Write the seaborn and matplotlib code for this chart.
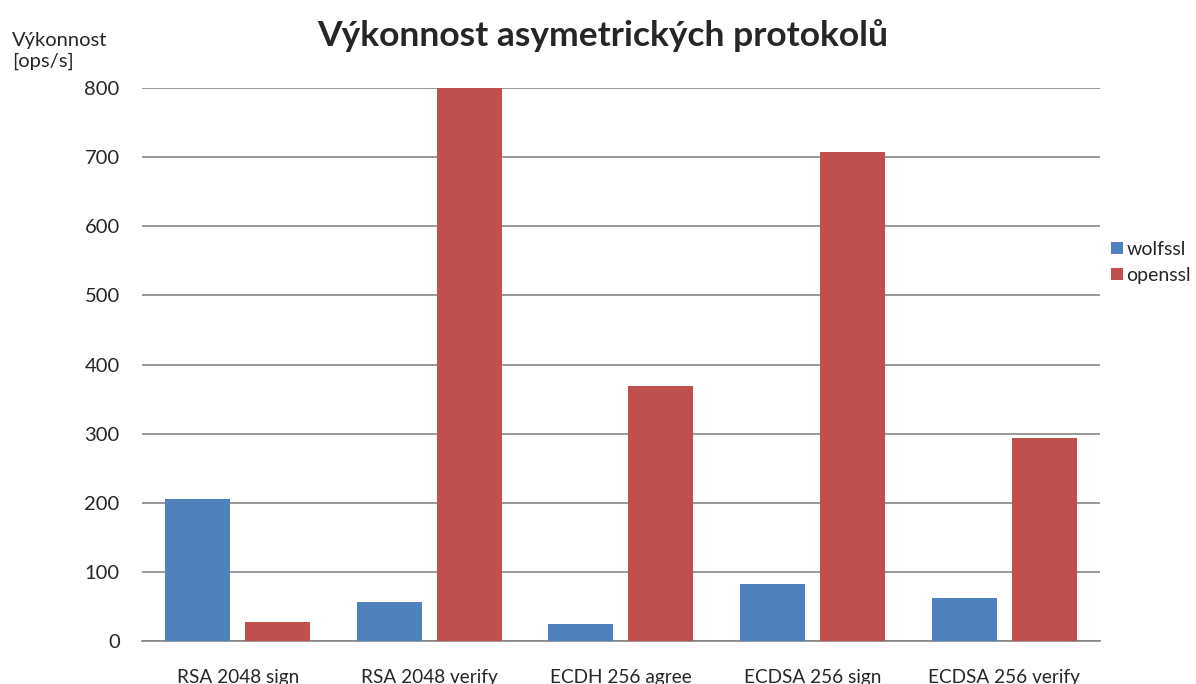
import numpy as np
import pandas as pd
import seaborn as sns
from matplotlib import pyplot as plt

sns.set_theme(style="white")
plt.rcParams['font.family'] = ['Lato', 'DejaVu Sans']

operace = ['RSA 2048 sign', 'RSA 2048 verify', 'ECDH 256 agree', 'ECDSA 256 sign', 'ECDSA 256 verify']
wolfssl = [205, 56, 25, 82, 62]
openssl = [27, 800, 369, 707, 293]
knihovny = ['wolfssl', 'openssl']
barvy = ['#4F81BD', '#C0504D']

df = pd.DataFrame({
    'operace': operace * 2,
    'hodnota': wolfssl + openssl,
    'knihovna': ['wolfssl'] * len(operace) + ['openssl'] * len(operace),
})

fig = plt.figure(figsize=(11.96, 6.84), dpi=100)
ax = fig.add_axes([0.1187, 0.0629, 0.8010, 0.8084])

sns.barplot(data=df, x='operace', y='hodnota', hue='knihovna', hue_order=knihovny,
            palette=barvy, width=0.835, gap=0.1875, saturation=1, linewidth=0,
            ax=ax, zorder=3)

ax.set_ylim(0, 800)
ax.set_yticks(np.arange(0, 801, 100))
ax.set_xlim(-0.5, len(operace) - 0.5)
ax.yaxis.grid(True, color='#868686', linewidth=1.2, zorder=0)
ax.set_axisbelow(True)
for s in ['top', 'right', 'left']:
    ax.spines[s].set_visible(False)
ax.spines['bottom'].set_color('#868686')
ax.spines['bottom'].set_linewidth(1.2)
ax.tick_params(axis='y', labelsize=14.5, pad=16, length=0)
ax.tick_params(axis='x', labelsize=13.7, pad=20, length=0)
ax.set_xlabel('')
ax.set_ylabel('')

fig.text(0.504, 0.948, 'Výkonnost asymetrických protokolů', ha='center', va='center',
         fontsize=25.5, fontweight='bold')
fig.text(0.010, 0.925, 'Výkonnost\n[ops/s]', ha='left', va='center', fontsize=14.5,
         linespacing=1.25)

ax.legend(loc='center left', bbox_to_anchor=(1.0115, 0.685), frameon=False, fontsize=14,
          handlelength=0.6, handleheight=0.6, handletextpad=0.2, labelspacing=0.45,
          borderaxespad=0, borderpad=0)

fig.savefig('out.png', dpi=100)
